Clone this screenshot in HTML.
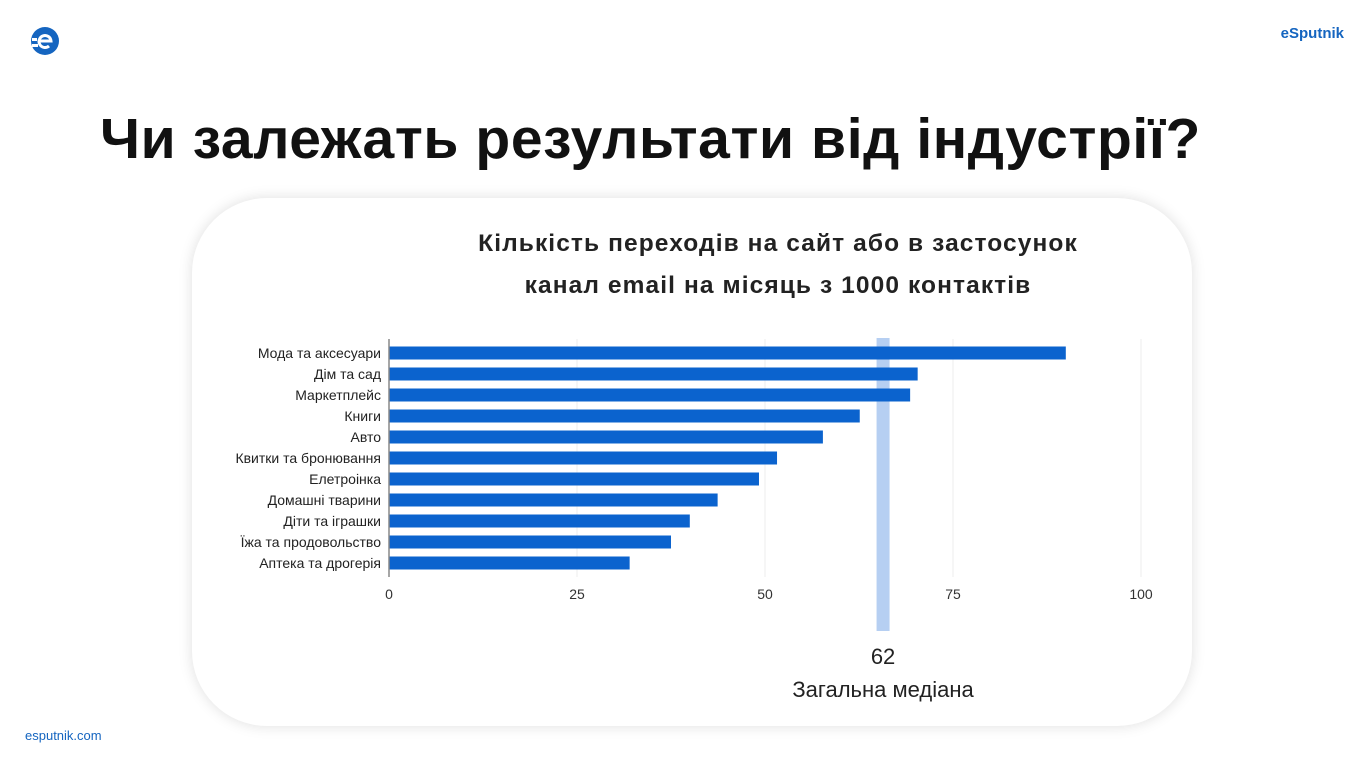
<!DOCTYPE html>
<html><head><meta charset="utf-8"><style>
body{margin:0;width:1364px;height:765px;background:#fff;position:relative;overflow:hidden;font-family:"Liberation Sans",sans-serif}
.card{position:absolute;left:192px;top:198px;width:1000px;height:528px;border-radius:75px;background:#fff;box-shadow:0 0 14px rgba(0,0,0,0.13)}
</style></head><body>
<svg style="position:absolute;left:30px;top:26px" width="30" height="30" viewBox="0 0 30 30">
<circle cx="15" cy="15" r="14" fill="#1565c0"/>
<path d="M8 15 h13 a6 6 0 1 0 -2 5" stroke="#fff" stroke-width="3" fill="none"/>
<rect x="2" y="12" width="5" height="3" fill="#fff"/><rect x="2" y="18" width="6" height="3" fill="#fff"/>
</svg>
<div style="position:absolute;right:20px;top:25px;color:#1565c0;font-weight:bold;font-size:15px">eSputnik</div>
<div style="position:absolute;left:100px;top:106px;font-size:57px;font-weight:bold;color:#111;white-space:nowrap;letter-spacing:0.6px">Чи залежать результати від індустрії?</div>
<div style="position:absolute;left:25px;top:728px;color:#1565c0;font-size:13px">esputnik.com</div>
<div class="card"></div>
<svg id="chart" style="position:absolute;left:0;top:0" width="1364" height="765"></svg>
<script>
const categories=["Мода та аксесуари","Дім та сад","Маркетплейс","Книги","Авто","Квитки та бронювання","Елетроінка","Домашні тварини","Діти та іграшки","Їжа та продовольство","Аптека та дрогерія"];
const values=[90,70.3,69.3,62.6,57.7,51.6,49.2,43.7,40,37.5,32];
const ticks=[0,25,50,75,100];
const medianPos=[65.7];
const medianLabel=["62"];
const NS="http://www.w3.org/2000/svg",svg=document.getElementById('chart');
const x=v=>389+v*7.52, y=i=>353+i*21;
function el(t,a,txt){const e=document.createElementNS(NS,t);for(const k in a)e.setAttribute(k,a[k]);if(txt!=null)e.textContent=txt;svg.appendChild(e);return e;}
const t1=el('text',{x:778,y:251,'text-anchor':'middle','font-size':'24.5','font-weight':'bold',fill:'#222','letter-spacing':'1.1'},'Кількість переходів на сайт або в застосунок');


const t2=el('text',{x:778,y:293,'text-anchor':'middle','font-size':'24.5','font-weight':'bold',fill:'#222','letter-spacing':'1.1'},'канал email на місяць з 1000 контактів');


ticks.forEach(t=>{if(t>0){const g=el('line',{x1:x(t),x2:x(t),y1:339,y2:577,stroke:'#eee','stroke-width':1});

}
const l=el('text',{x:x(t),y:599,'text-anchor':'middle','font-size':'14',fill:'#333'},t);

});
const m=el('rect',{x:x(medianPos[0])-6.5,y:338,width:13,height:293,fill:'#b6cff2'});


categories.forEach((c,i)=>{
const b=el('rect',{x:x(0),y:y(i)-6.5,width:x(values[i])-x(0),height:13,fill:'#0b63ce'});


const l=el('text',{x:381,y:y(i)+5,'text-anchor':'end','font-size':'14',fill:'#222'},c);

});
const ax=el('line',{x1:389,x2:389,y1:339,y2:577,stroke:'#888','stroke-width':1.5});


const mv=el('text',{x:x(medianPos[0]),y:664,'text-anchor':'middle','font-size':'22',fill:'#222'},medianLabel[0]);


const mt=el('text',{x:x(medianPos[0]),y:697,'text-anchor':'middle','font-size':'22',fill:'#222'},'Загальна медіана');


</script>
</body></html>
